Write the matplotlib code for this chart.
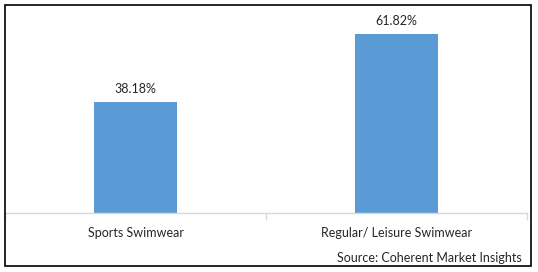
import matplotlib
matplotlib.use("Agg")
import matplotlib.pyplot as plt
from matplotlib.patches import Rectangle

categories = ["Sports Swimwear", "Regular/ Leisure Swimwear"]
values = [38.18, 61.82]
value_labels = ["38.18%", "61.82%"]
source = "Source: Coherent Market Insights"

W, H = 538, 272
fig = plt.figure(figsize=(W / 100, H / 100), dpi=100)
plt.rcParams['font.family'] = ['Lato', 'DejaVu Sans']

def fx(px):
    return px / W

def fy(py):
    return 1 - py / H

ax = fig.add_axes([fx(5), fy(213), fx(527) - fx(5), fy(10) - fy(213)])
x = range(len(categories))
bars = ax.bar(x, values, width=0.315, color="#5B9BD5")
ax.set_xlim(-0.5, len(categories) - 0.5)
ax.set_ylim(0, 70)

for b, lab in zip(bars, value_labels):
    ax.annotate(lab, (b.get_x() + b.get_width() / 2, b.get_height()),
                xytext=(0, 5), textcoords="offset points", ha="center",
                va="bottom", fontsize=9, color="#262626")

for s in ["top", "right", "left"]:
    ax.spines[s].set_visible(False)
ax.spines["bottom"].set_color("#D9D9D9")
ax.spines["bottom"].set_linewidth(1)
ax.set_yticks([])
ax.set_xticks(list(x))
ax.set_xticklabels(categories, fontsize=9, color="#262626")
ax.tick_params(axis="x", which="major", length=0, pad=10)
ax.set_xticks([-0.5, 0.5, 1.5], minor=True)
ax.tick_params(axis="x", which="minor", length=5, color="#D9D9D9", width=1)

fig.text(fx(522), fy(258), source, ha="right", va="center", fontsize=9, color="#262626")

fig.patches.append(Rectangle((fx(5), fy(266)), fx(531) - fx(5), fy(5) - fy(266),
                             transform=fig.transFigure, fill=False,
                             edgecolor="black", linewidth=1.2))

fig.savefig("out.png", dpi=100)
